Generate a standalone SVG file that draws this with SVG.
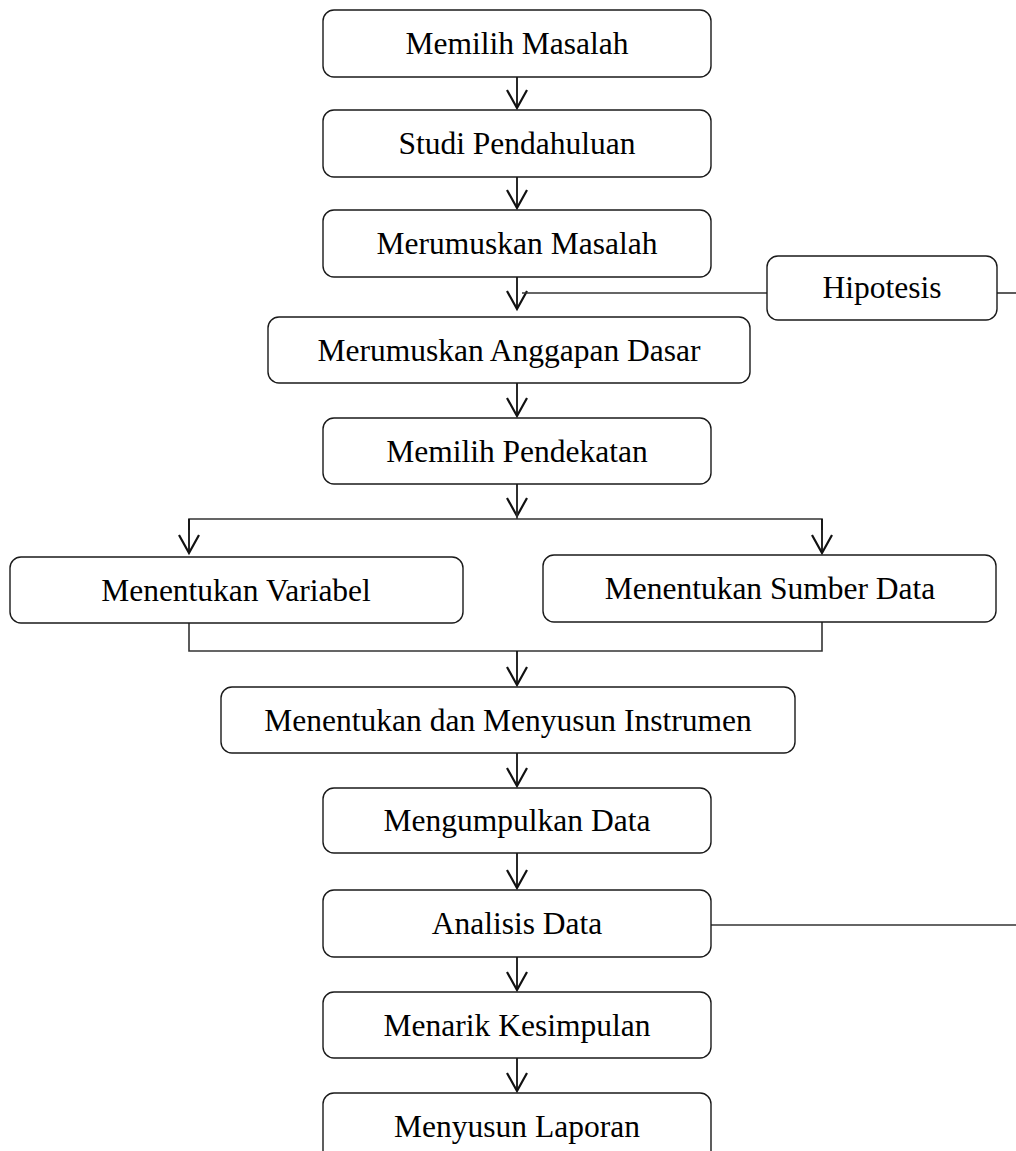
<svg xmlns="http://www.w3.org/2000/svg" width="1016" height="1151" viewBox="0 0 1016 1151">
<defs>
<style>
.box{fill:#fff;stroke:#1a1a1a;stroke-width:1.4}
.lbl{font-family:"Liberation Serif","Times New Roman",serif;font-size:31.5px;fill:#000;text-anchor:middle}
.ln{fill:none;stroke:#333;stroke-width:1.6}
.ar{fill:none;stroke:#111;stroke-width:1.8;marker-end:url(#v)}
</style>
<marker id="v" markerUnits="userSpaceOnUse" markerWidth="24" markerHeight="24" viewBox="-20 -12 22 24" refX="0" refY="0" orient="auto" overflow="visible">
<path d="M-18,-10 L0,0 L-18,10" fill="none" stroke="#111" stroke-width="2.2"/>
</marker>
</defs>
<rect width="1016" height="1151" fill="#fff"/>
<g id="connectors">
<line class="ar" x1="517" y1="77" x2="517" y2="108"/>
<line class="ar" x1="517" y1="177" x2="517" y2="208"/>
<line class="ar" x1="517" y1="277" x2="517" y2="309"/>
<line class="ln" x1="522" y1="293" x2="767" y2="293"/>
<line class="ln" x1="997" y1="293" x2="1016" y2="293"/>
<line class="ar" x1="517" y1="383" x2="517" y2="416"/>
<line class="ar" x1="517" y1="484" x2="517" y2="516"/>
<polyline class="ln" points="517,484 517,519"/>
<polyline class="ln" points="189,530 189,519 822,519 822,530"/>
<line class="ar" x1="189" y1="519" x2="189" y2="553"/>
<line class="ar" x1="822" y1="519" x2="822" y2="553"/>
<polyline class="ln" points="189,623 189,651 822,651 822,622"/>
<line class="ar" x1="517" y1="651" x2="517" y2="685"/>
<line class="ar" x1="517" y1="753" x2="517" y2="786"/>
<line class="ar" x1="517" y1="853" x2="517" y2="888"/>
<line class="ln" x1="711" y1="925" x2="1016" y2="925"/>
<line class="ar" x1="517" y1="957" x2="517" y2="990"/>
<line class="ar" x1="517" y1="1058" x2="517" y2="1091"/>
</g>
<g id="n1"><rect class="box" x="323" y="10" width="388" height="67" rx="11"/><text class="lbl" x="517" y="54">Memilih Masalah</text></g>
<g id="n2"><rect class="box" x="323" y="110" width="388" height="67" rx="11"/><text class="lbl" x="517" y="154">Studi Pendahuluan</text></g>
<g id="n3"><rect class="box" x="323" y="210" width="388" height="67" rx="11"/><text class="lbl" x="517" y="254">Merumuskan Masalah</text></g>
<g id="n4"><rect class="box" x="767" y="256" width="230" height="64" rx="11"/><text class="lbl" x="882" y="298">Hipotesis</text></g>
<g id="n5"><rect class="box" x="268" y="317" width="482" height="66" rx="11"/><text class="lbl" x="509" y="361">Merumuskan Anggapan Dasar</text></g>
<g id="n6"><rect class="box" x="323" y="418" width="388" height="66" rx="11"/><text class="lbl" x="517" y="462">Memilih Pendekatan</text></g>
<g id="n7"><rect class="box" x="10" y="557" width="453" height="66" rx="11"/><text class="lbl" x="236" y="601">Menentukan Variabel</text></g>
<g id="n8"><rect class="box" x="543" y="555" width="453" height="67" rx="11"/><text class="lbl" x="770" y="599">Menentukan Sumber Data</text></g>
<g id="n9"><rect class="box" x="221" y="687" width="574" height="66" rx="11"/><text class="lbl" x="508" y="731">Menentukan dan Menyusun Instrumen</text></g>
<g id="n10"><rect class="box" x="323" y="788" width="388" height="65" rx="11"/><text class="lbl" x="517" y="831">Mengumpulkan Data</text></g>
<g id="n11"><rect class="box" x="323" y="890" width="388" height="67" rx="11"/><text class="lbl" x="517" y="934">Analisis Data</text></g>
<g id="n12"><rect class="box" x="323" y="992" width="388" height="66" rx="11"/><text class="lbl" x="517" y="1036">Menarik Kesimpulan</text></g>
<g id="n13"><rect class="box" x="323" y="1093" width="388" height="80" rx="11"/><text class="lbl" x="517" y="1137">Menyusun Laporan</text></g>
</svg>
